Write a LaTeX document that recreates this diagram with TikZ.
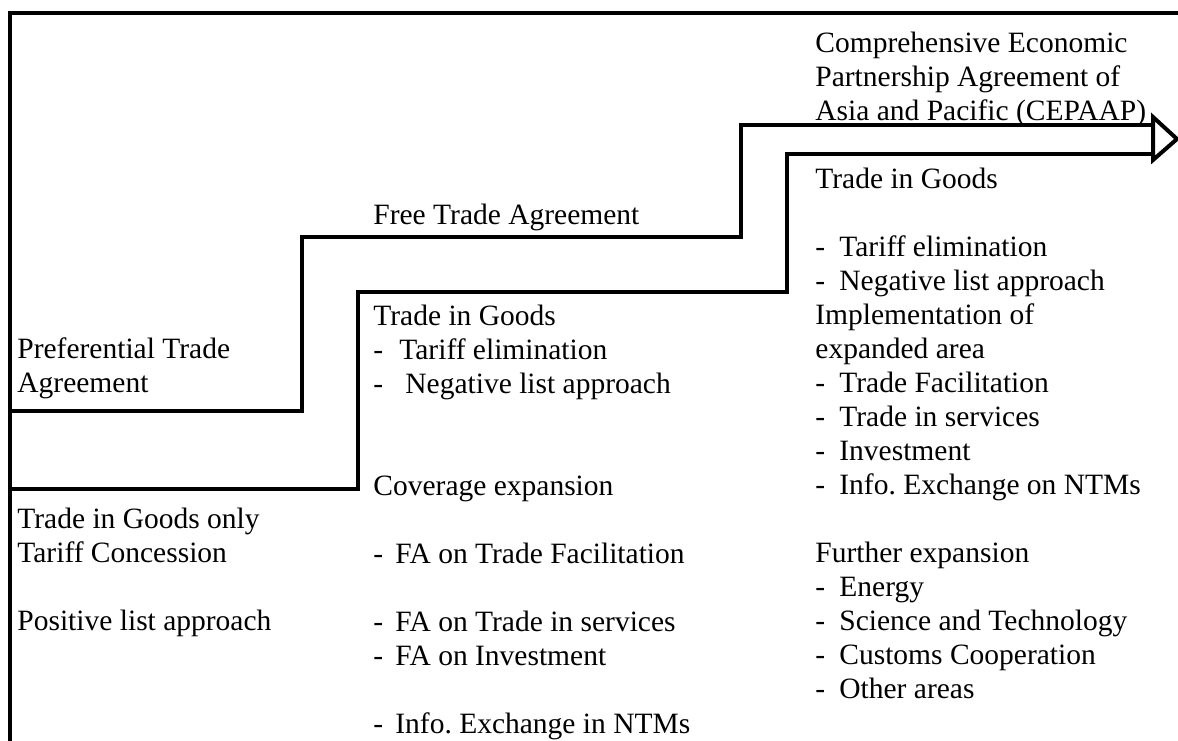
\documentclass[tikz,border=0pt]{standalone}
\usepackage{fontspec}
\setmainfont{Liberation Serif}
\usetikzlibrary{positioning}

% dash before a list item, then the item text
\newcommand{\dsh}[1][12pt]{\makebox[#1][l]{-}}

\begin{document}
\begin{tikzpicture}[
    x=0.5pt, y=-0.5pt,
    stepline/.style={line width=2pt, line join=miter},
    txt/.style={anchor=base west, inner sep=0pt, align=left,
        font=\fontsize{14.75}{17}\selectfont}
]
    \useasboundingbox (0,0) rectangle (1178,740);

    % frame
    \coordinate (tl) at (10,13);
    \coordinate (tr) at (1180,13);
    \coordinate (bl) at (10,742);
    \draw[stepline] (tr) -- (tl) -- (bl);

    % upper step
    \coordinate (u0) at (10,411);
    \coordinate (u1) at (302,411);
    \coordinate (u2) at (302,237);
    \coordinate (u3) at (741,237);
    \coordinate (u4) at (741,125);
    \coordinate (u5) at (1153,125);
    \draw[stepline] (u0) -- (u1) -- (u2) -- (u3) -- (u4) -- (u5);

    % lower step
    \coordinate (l0) at (10,489);
    \coordinate (l1) at (358,489);
    \coordinate (l2) at (358,292);
    \coordinate (l3) at (787,292);
    \coordinate (l4) at (787,154);
    \coordinate (l5) at (1153,154);
    \draw[stepline] (l0) -- (l1) -- (l2) -- (l3) -- (l4) -- (l5);

    % arrow head
    \coordinate (h1) at (1153,117);
    \coordinate (h2) at (1177,139);
    \coordinate (h3) at (1153,160);
    \draw[stepline, fill=white] (h1) -- (h2) -- (h3) -- cycle;

    % preferential trade agreement (nodes placed at the baseline of their last line)
    \node[txt] (pta) at (17,392) {Preferential Trade\\Agreement};
    \node[txt] (ptabody) at (17,630) {Trade in Goods only\\Tariff Concession\\[17pt]Positive list approach};

    % free trade agreement
    \node[txt] (fta) at (373,224) {Free Trade Agreement};
    \node[txt] (ftabody) at (373,733) {Trade in Goods\\
        \dsh[13pt]Tariff elimination\\
        \dsh[16pt]Negative list approach\\[34pt]
        Coverage expansion\\[17pt]
        \dsh[11pt]FA on Trade Facilitation\\[17pt]
        \dsh[11pt]FA on Trade in services\\
        \dsh[11pt]FA on Investment\\[17pt]
        \dsh[11pt]Info.\ Exchange in NTMs};

    % comprehensive agreement
    \node[txt] (cepa) at (815,120) {Comprehensive Economic\\Partnership Agreement of\\Asia and Pacific (CEPAAP)};
    \node[txt] (cepabody) at (815,698) {Trade in Goods\\[17pt]
        \dsh Tariff elimination\\
        \dsh Negative list approach\\
        Implementation of\\
        expanded area\\
        \dsh Trade Facilitation\\
        \dsh Trade in services\\
        \dsh Investment\\
        \dsh Info.\ Exchange on NTMs\\[17pt]
        Further expansion\\
        \dsh Energy\\
        \dsh Science and Technology\\
        \dsh Customs Cooperation\\
        \dsh Other areas};
\end{tikzpicture}
\end{document}
